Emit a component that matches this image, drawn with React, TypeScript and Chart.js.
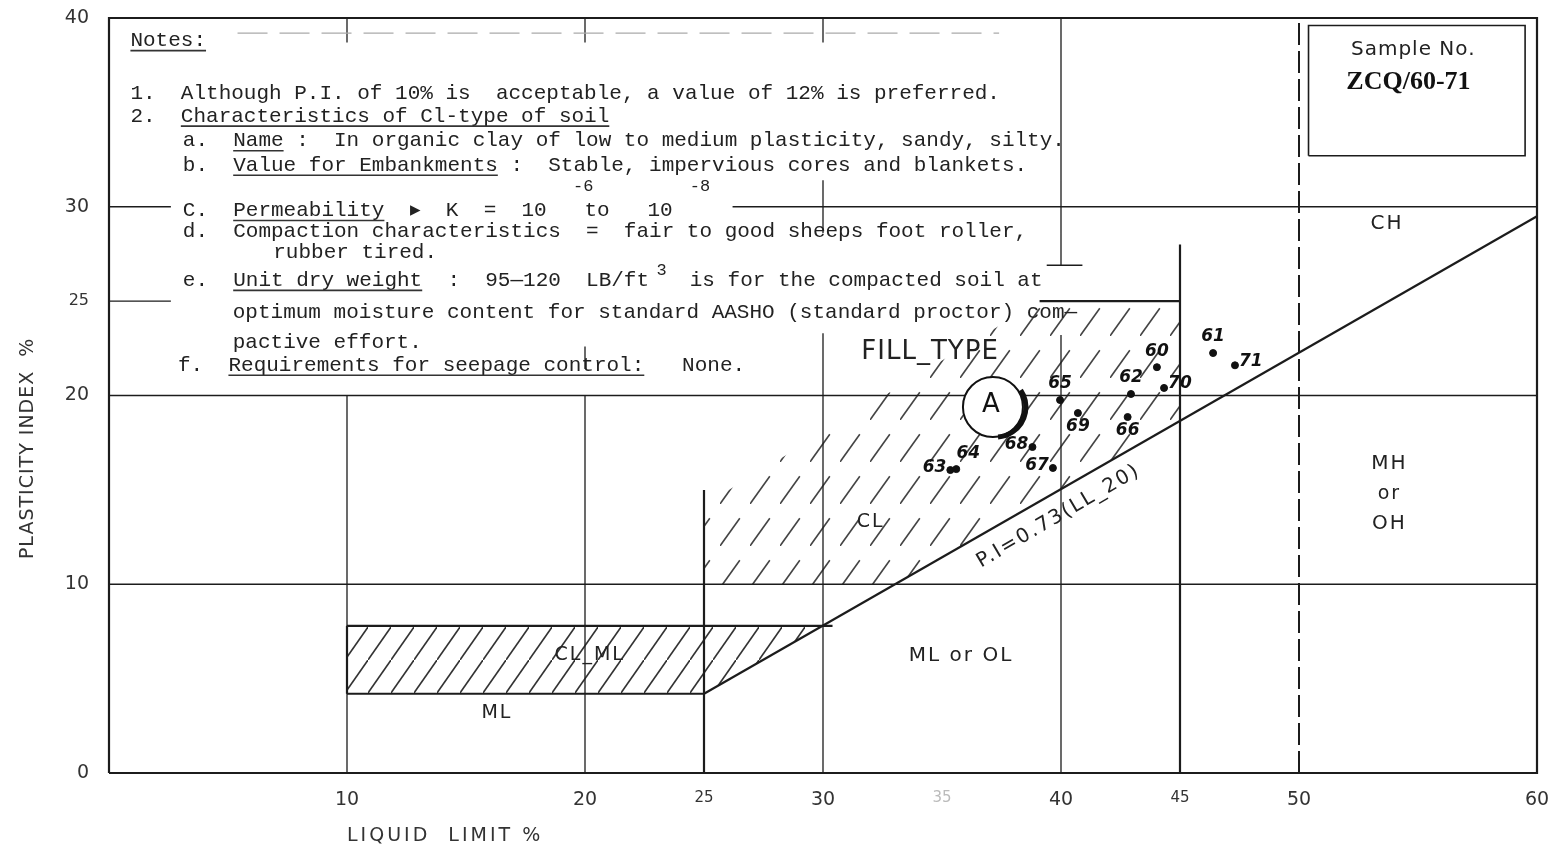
import React, { useEffect, useRef } from "react";
import { Chart, registerables } from "chart.js";

Chart.register(...registerables);

// ---------- axis ticks ----------
const llTicks = [10, 20, 25, 30, 35, 40, 45, 50, 60];
const piTicks = [0, 10, 20, 25, 30, 40];
const smallLLTicks = [25, 35, 45];
const faintLLTicks = [35];
const smallPITicks = [25];

// ---------- sample points (LL, PI) ----------
const sampleIds = ["65", "62", "60", "70", "61", "71", "69", "66", "68", "67", "63", "64"];
const sampleLL = [39.96, 42.94, 44.03, 44.33, 46.39, 47.31, 40.71, 42.8, 38.8, 39.66, 35.35, 35.6];
const samplePI = [19.76, 20.08, 21.5, 20.4, 22.25, 21.6, 19.07, 18.86, 17.27, 16.16, 16.05, 16.1];
const sampleLabelSide = ["above", "above", "above", "right", "above", "right", "below", "below", "left", "left", "left", "aboveRight"];

// reference point "A"
const refNames = ["A"];
const refLL = [37.14];
const refPI = [19.39];

// ---------- zone outlines ----------
const aLineLL = [25, 60];
const aLinePI = [4.2, 29.5];
const clmlLL = [10, 25, 29.98, 10, 10];
const clmlPI = [4.2, 4.2, 7.8, 7.8, 4.2];
const clLL = [25, 33.02, 45, 45, 39.1, 25, 25];
const clPI = [10, 10, 18.66, 25, 25, 14.2, 10];
const frameLL = [0, 60, 60, 0, 0];
const framePI = [0, 0, 40, 40, 0];
const sampleBoxLL = [50.4, 59.5, 59.5, 50.4, 50.4];
const sampleBoxPI = [32.7, 32.7, 39.6, 39.6, 32.7];

// segments [LL1, PI1, LL2, PI2]
const thinSegments = [
  [0, 10, 60, 10],
  [0, 20, 60, 20],
  [0, 30, 2.6, 30],
  [26.2, 30, 60, 30],
  [0, 25, 2.6, 25],
  [10, 0, 10, 20],
  [20, 0, 20, 20],
  [20, 21.4, 20, 22.6],
  [30, 0, 30, 23.3],
  [30, 28.6, 30, 31.4],
  [40, 0, 40, 23.2],
  [40, 26.9, 40, 40],
  [39.4, 26.9, 40.9, 26.9],
  [10, 38.7, 10, 40],
  [20, 38.7, 20, 40],
  [30, 38.7, 30, 40],
];
const heavySegments = [
  [25, 0, 25, 15],
  [45, 0, 45, 28],
  [39.1, 25, 45, 25],
  [10, 4.2, 25, 4.2],
  [10, 7.8, 30.4, 7.8],
  [10, 4.2, 10, 7.8],
];
const dashedSegments = [[50, 0, 50, 40]];
const faintSegments = [[5.4, 39.2, 37.4, 39.2]];

// ---------- zone labels ----------
const zoneNames = ["FILL_TYPE", "CL", "CL_ML", "ML", "ML or OL", "CH", "MH", "or", "OH"];
const zoneLL = [34.5, 32.0, 20.2, 16.3, 35.8, 53.7, 53.8, 53.8, 53.8];
const zonePI = [22.3, 13.3, 6.25, 3.2, 6.2, 29.1, 16.4, 14.8, 13.2];
const zoneSize = [26, 19, 19, 19, 20, 20, 20, 19, 20];

const aLineLabel = "P.I=0.73(LL_20)";
const aLineLabelLL = 39.9;
const aLineLabelPI = 13.6;

// ---------- notes ----------
const noteLines = [
  "Notes:",
  "1.  Although P.I. of 10% is  acceptable, a value of 12% is preferred.",
  "2.  Characteristics of Cl-type of soil",
  "a.  Name :  In organic clay of low to medium plasticity, sandy, silty.",
  "b.  Value for Embankments :  Stable, impervious cores and blankets.",
  "C.  Permeability  \u25B8  K  =  10   to   10",
  "d.  Compaction characteristics  =  fair to good sheeps foot roller,",
  "rubber tired.",
  "e.  Unit dry weight  :  95\u2014120  LB/ft",
  "optimum moisture content for standard AASHO (standard proctor) com\u2014",
  "pactive effort.",
  "f.  Requirements for seepage control:   None.",
  "is for the compacted soil at",
];
const noteLL = [0.9, 0.9, 0.9, 3.1, 3.1, 3.1, 3.1, 6.9, 3.1, 5.2, 5.2, 2.9, 24.4];
const notePI = [38.8, 36.0, 34.8, 33.5, 32.2, 29.8, 28.7, 27.6, 26.1, 24.4, 22.8, 21.6, 26.1];
const noteUnderline = [[0, 6], null, [4, 38], [4, 8], [4, 25], [4, 16], null, null, [4, 19], null, null, [4, 37], null];
const superTexts = ["-6", "-8", "3"];
const superLL = [19.5, 24.4, 23.0];
const superPI = [31.05, 31.05, 26.6];

const sampleBoxTitle = "Sample No.";
const sampleBoxCode = "ZCQ/60-71";

const xTitle = "LIQUID  LIMIT %";
const yTitle = "PLASTICITY INDEX  %";

function segData(segs: number[][]) {
  const out: any[] = [];
  segs.forEach((s) => {
    out.push({ x: s[0], y: s[1] }, { x: s[2], y: s[3] }, { x: NaN, y: NaN });
  });
  return out;
}
function polyData(xs: number[], ys: number[]) {
  return xs.map((v, i) => ({ x: v, y: ys[i] }));
}

function makeHatch(w: number, h: number, frac: number, lw: number, color: string) {
  const c = document.createElement("canvas");
  c.width = w;
  c.height = h;
  const g = c.getContext("2d")!;
  g.strokeStyle = color;
  g.lineWidth = lw;
  const offs = [[0, 0], [-w, h], [w, -h]];
  offs.forEach(([ox, oy]) => {
    g.beginPath();
    g.moveTo(ox, oy + h);
    g.lineTo(ox + w * frac, oy + h - h * frac);
    g.stroke();
  });
  return g.createPattern(c, "repeat");
}

function noEdgePadding(s: any, sides: string[]) {
  sides.forEach((side) => {
    const key = "padding" + side.charAt(0).toUpperCase() + side.slice(1);
    s[key] = 0;
    if (s._margins) s._margins[side] = 0;
  });
}

const annotPlugin = {
  id: "annot",
  afterDatasetsDraw(chart: any) {
    const { ctx, chartArea } = chart;
    const xs = chart.scales.x;
    const ys = chart.scales.y;
    const px = (v: number) => xs.getPixelForValue(v);
    const py = (v: number) => ys.getPixelForValue(v);
    ctx.save();

    // crescent of point A + label
    refNames.forEach((n, i) => {
      const cx = px(refLL[i]);
      const cy = py(refPI[i]);
      ctx.strokeStyle = "#111";
      ctx.lineWidth = 5;
      ctx.beginPath();
      ctx.arc(cx + 3, cy, 30, -0.6, 1.5);
      ctx.stroke();
      ctx.fillStyle = "#111";
      ctx.font = '26px "DejaVu Sans"';
      ctx.textAlign = "center";
      ctx.textBaseline = "middle";
      ctx.fillText(n, cx - 2, cy - 2);
    });

    // sample labels
    ctx.font = 'italic bold 17px "DejaVu Sans"';
    ctx.fillStyle = "#111";
    ctx.textBaseline = "middle";
    sampleIds.forEach((id, i) => {
      let x = px(sampleLL[i]);
      let y = py(samplePI[i]);
      const side = sampleLabelSide[i];
      ctx.textAlign = "center";
      if (side === "above") y -= 16;
      else if (side === "below") y += 14;
      else if (side === "left") { ctx.textAlign = "right"; x -= 4; y -= 2; }
      else if (side === "right") { ctx.textAlign = "left"; x += 4; y -= 4; }
      else if (side === "aboveRight") { x += 12; y -= 16; }
      ctx.fillText(id, x, y);
    });

    // zone labels
    ctx.fillStyle = "#222";
    ctx.textAlign = "center";
    ctx.textBaseline = "middle";
    zoneNames.forEach((n, i) => {
      ctx.font = `${zoneSize[i]}px "DejaVu Sans"`;
      (ctx as any).letterSpacing = i === 0 ? "1px" : "2px";
      ctx.fillText(n, px(zoneLL[i]), py(zonePI[i]));
    });

    // A-line label
    ctx.save();
    ctx.translate(px(aLineLabelLL), py(aLineLabelPI));
    ctx.rotate(-0.53);
    ctx.font = '20px "DejaVu Sans"';
    (ctx as any).letterSpacing = "2px";
    ctx.fillText(aLineLabel, 0, 0);
    ctx.restore();
    (ctx as any).letterSpacing = "0px";

    // notes
    ctx.font = '21px "Liberation Mono"';
    ctx.fillStyle = "#222";
    ctx.strokeStyle = "#333";
    ctx.lineWidth = 1.6;
    ctx.textAlign = "left";
    ctx.textBaseline = "middle";
    const cw = ctx.measureText("M").width;
    noteLines.forEach((line, i) => {
      const x = px(noteLL[i]);
      const y = py(notePI[i]);
      ctx.fillText(line, x, y);
      const u = noteUnderline[i];
      if (u) {
        ctx.beginPath();
        ctx.moveTo(x + u[0] * cw, y + 10);
        ctx.lineTo(x + u[1] * cw, y + 10);
        ctx.stroke();
      }
    });
    ctx.font = '17px "Liberation Mono"';
    superTexts.forEach((t, i) => ctx.fillText(t, px(superLL[i]), py(superPI[i])));

    // sample box texts
    ctx.textAlign = "center";
    ctx.font = '20px "DejaVu Sans"';
    (ctx as any).letterSpacing = "1px";
    ctx.fillText(sampleBoxTitle, px(54.8), py(38.3));
    (ctx as any).letterSpacing = "0px";
    ctx.font = 'bold 26px "Liberation Serif"';
    ctx.fillStyle = "#111";
    ctx.fillText(sampleBoxCode, px(54.6), py(36.6));

    // axis titles
    ctx.fillStyle = "#333";
    ctx.font = '19px "DejaVu Sans"';
    (ctx as any).letterSpacing = "3px";
    ctx.textAlign = "left";
    ctx.fillText(xTitle, px(10), chartArea.bottom + 63);
    ctx.save();
    ctx.translate(chartArea.left - 81, py(17.2));
    ctx.rotate(-Math.PI / 2);
    ctx.textAlign = "center";
    (ctx as any).letterSpacing = "1px";
    ctx.fillText(yTitle, 0, 0);
    ctx.restore();
    (ctx as any).letterSpacing = "0px";

    ctx.restore();
  },
};

export default function App() {
  const ref = useRef<HTMLCanvasElement | null>(null);
  useEffect(() => {
    document.body.style.margin = "0";
    const canvas = ref.current!;
    const solidHatch = makeHatch(23, 33, 1, 1.6, "#333");
    const dashHatch = makeHatch(30, 42, 0.66, 1.6, "#444");
    const lineDs = (data: any[], extra: any) => ({
      data,
      showLine: true,
      pointRadius: 0,
      borderColor: "#1c1c1c",
      borderWidth: 1.3,
      fill: false,
      clip: false,
      spanGaps: false,
      ...extra,
    });
    const chart = new Chart(canvas, {
      type: "scatter",
      data: {
        datasets: [
          lineDs(polyData(clLL, clPI), { borderWidth: 0, fill: "shape", backgroundColor: dashHatch, order: 20 }),
          lineDs(polyData(clmlLL, clmlPI), { borderWidth: 0, fill: "shape", backgroundColor: solidHatch, order: 20 }),
          lineDs(polyData(frameLL, framePI), { borderWidth: 2.2, order: 10 }),
          lineDs(segData(thinSegments), { borderWidth: 1.3, order: 10 }),
          lineDs(segData(heavySegments), { borderWidth: 2.2, order: 9 }),
          lineDs(polyData(aLineLL, aLinePI), { borderWidth: 2.2, order: 9 }),
          lineDs(segData(dashedSegments), { borderWidth: 2, borderDash: [22, 6], order: 9 }),
          lineDs(segData(faintSegments), { borderWidth: 1.4, borderColor: "#aaa", borderDash: [30, 12], order: 9 }),
          lineDs(polyData(sampleBoxLL, sampleBoxPI), { borderWidth: 1.6, order: 9 }),
          {
            data: polyData(refLL, refPI),
            pointRadius: 30,
            pointBackgroundColor: "#fff",
            pointBorderColor: "#111",
            pointBorderWidth: 2,
            clip: false,
            order: 3,
          },
          {
            data: polyData(sampleLL, samplePI),
            pointRadius: 3.5,
            pointBackgroundColor: "#111",
            pointBorderColor: "#111",
            pointBorderWidth: 1,
            clip: false,
            order: 1,
          },
        ],
      } as any,
      options: {
        animation: false,
        responsive: false,
        maintainAspectRatio: false,
        events: [],
        layout: { autoPadding: false, padding: { top: 18, right: 18, left: 0, bottom: 0 } },
        plugins: { legend: { display: false }, tooltip: { enabled: false } },
        scales: {
          x: {
            type: "linear",
            min: 0,
            max: 60,
            grid: { display: false, drawTicks: false },
            border: { display: false },
            afterBuildTicks: (s: any) => {
              s.ticks = llTicks.map((v) => ({ value: v }));
            },
            afterFit: (s: any) => {
              s.height = 78;
              noEdgePadding(s, ["left", "right"]);
            },
            ticks: {
              autoSkip: false,
              maxRotation: 0,
              padding: 16,
              callback: (v: any) => String(v),
              font: (c: any) => ({
                family: "DejaVu Sans",
                size: c.tick && smallLLTicks.includes(c.tick.value) ? 15 : 19,
              }),
              color: (c: any) => (c.tick && faintLLTicks.includes(c.tick.value) ? "#bbb" : "#333"),
            },
          },
          y: {
            type: "linear",
            min: 0,
            max: 40,
            grid: { display: false, drawTicks: false },
            border: { display: false },
            afterBuildTicks: (s: any) => {
              s.ticks = piTicks.map((v) => ({ value: v }));
            },
            afterFit: (s: any) => {
              s.width = 109;
              noEdgePadding(s, ["top", "bottom"]);
            },
            ticks: {
              autoSkip: false,
              padding: 20,
              callback: (v: any) => String(v),
              font: (c: any) => ({
                family: "DejaVu Sans",
                size: c.tick && smallPITicks.includes(c.tick.value) ? 16 : 19,
              }),
              color: "#333",
            },
          },
        },
      } as any,
      plugins: [annotPlugin],
    });
    return () => chart.destroy();
  }, []);
  return (
    <div style={{ width: 1555, height: 851, background: "#fff" }}>
      <canvas ref={ref} width={1555} height={851} style={{ display: "block" }} />
    </div>
  );
}
